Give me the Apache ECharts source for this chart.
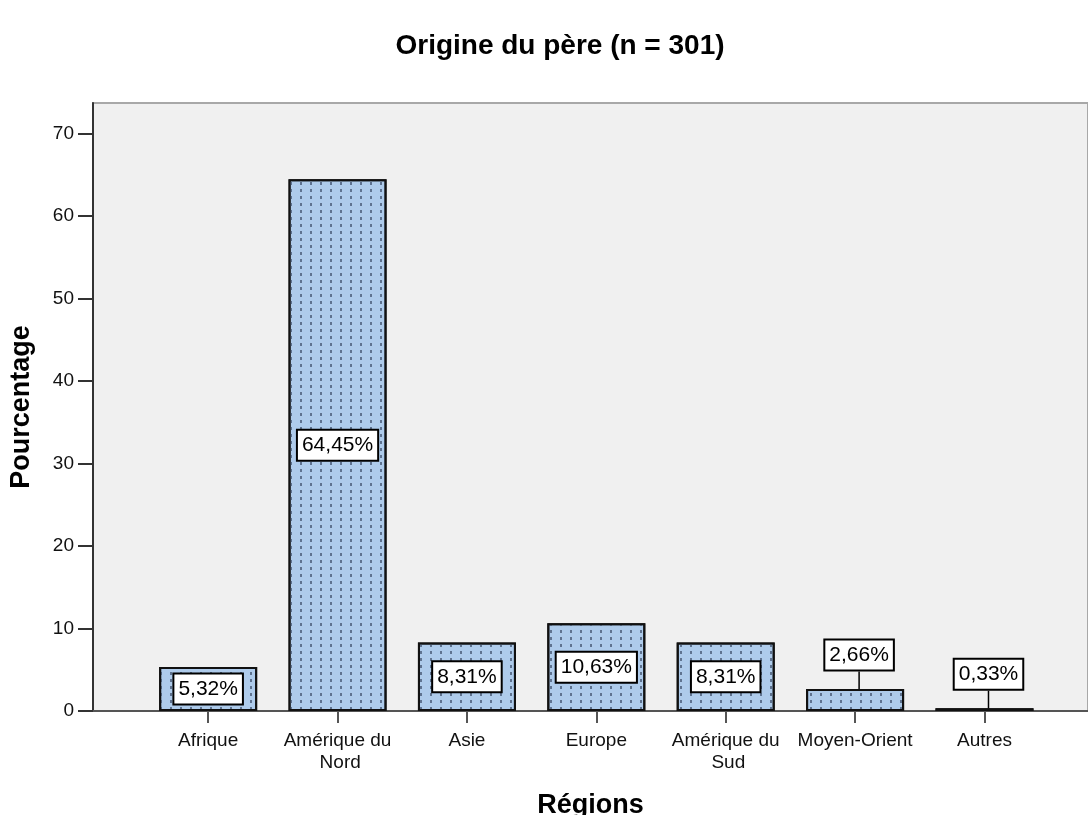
<!DOCTYPE html>
<html>
<head>
<meta charset="utf-8">
<title>Origine du père</title>
<script src="https://cdn.jsdelivr.net/npm/echarts@6/dist/echarts.min.js"></script>
<style>
  html, body { margin: 0; padding: 0; background: #fff; }
  #main { width: 1088px; height: 815px; }
</style>
</head>
<body>
<div id="main"></div>
<script>
// categories and percentages
var regions = ['Afrique', 'Amérique du Nord', 'Asie', 'Europe', 'Amérique du Sud', 'Moyen-Orient', 'Autres'];
var percents = [5.32, 64.45, 8.31, 10.63, 8.31, 2.66, 0.33];
var yTicks = [0, 10, 20, 30, 40, 50, 60, 70];
var xTicks = [0, 1, 2, 3, 4, 5, 6];

var FONT = '"Liberation Sans", Arial, sans-serif';

// bars sit on a value axis so the plot area can run wider than the categories
var barData = percents.map(function (v, i) {
    var item = { value: [i, v] };
    if (v < 3) {
        item.labelLine = { show: true, lineStyle: { color: '#000', width: 1.5 } };
    }
    return item;
});

var myChart = echarts.init(document.getElementById('main'));
myChart.setOption({
    backgroundColor: '#fff',
    animation: false,
    title: {
        text: 'Origine du père (n = 301)',
        left: 555,
        textAlign: 'center',
        top: 27,
        textStyle: { fontFamily: FONT, fontSize: 28, fontWeight: 'bold', color: '#000' }
    },
    grid: {
        left: 93, top: 103, right: 0, bottom: 104,
        outerBoundsMode: 'none',
        containLabel: false,
        show: true,
        backgroundColor: '#f0f0f0',
        borderColor: '#a8a8a8',
        borderWidth: 2
    },
    xAxis: {
        type: 'value',
        min: -0.89,
        max: 6.8,
        name: 'Régions',
        nameLocation: 'middle',
        nameGap: 81,
        nameTextStyle: { fontFamily: FONT, fontSize: 27, fontWeight: 'bold', color: '#000' },
        splitLine: { show: false },
        axisLine: { show: true, onZero: false, lineStyle: { color: '#555', width: 2 } },
        axisTick: { show: true, customValues: xTicks, length: 12, lineStyle: { color: '#555', width: 2 } },
        axisLabel: {
            customValues: xTicks,
            showMinLabel: true,
            showMaxLabel: true,
            margin: 19,
            fontFamily: FONT,
            fontSize: 19,
            lineHeight: 22,
            color: '#111',
            width: 120,
            overflow: 'break',
            formatter: function (v) { return regions[v]; }
        }
    },
    yAxis: {
        type: 'value',
        min: 0,
        max: 73.7,
        name: 'Pourcentage',
        nameLocation: 'middle',
        nameRotate: 90,
        nameGap: 58,
        nameTextStyle: { fontFamily: FONT, fontSize: 27, fontWeight: 'bold', color: '#000' },
        splitLine: { show: false },
        axisLine: { show: true, onZero: false, lineStyle: { color: '#333', width: 2 } },
        axisTick: { show: true, customValues: yTicks, length: 15, lineStyle: { color: '#333', width: 2 } },
        axisLabel: {
            customValues: yTicks,
            showMinLabel: true,
            showMaxLabel: true,
            margin: 19,
            fontFamily: FONT,
            fontSize: 19,
            color: '#111'
        }
    },
    series: [{
        type: 'bar',
        barWidth: 98,
        data: barData,
        itemStyle: {
            color: '#aecbeb',
            borderColor: '#111',
            borderWidth: 2,
            decal: {
                symbol: 'rect',
                symbolSize: 1,
                color: '#5f7390',
                dashArrayX: [1.2, 8],
                dashArrayY: [2.5, 3.2],
                rotation: 0
            }
        },
        label: {
            show: true,
            position: 'inside',
            fontFamily: FONT,
            fontSize: 21,
            color: '#000',
            backgroundColor: '#fff',
            borderColor: '#000',
            borderWidth: 2,
            padding: [5, 4, 3, 4],
            formatter: function (p) {
                return p.value[1].toFixed(2).replace('.', ',') + '%';
            }
        },
        // tiny bars get their label lifted above the bar with a leader line
        labelLayout: function (p) {
            if (p.rect.height < p.labelRect.height + 4) {
                return { dx: 4, dy: -34 - p.rect.height / 2 };
            }
            return {};
        }
    }]
});
</script>
</body>
</html>
